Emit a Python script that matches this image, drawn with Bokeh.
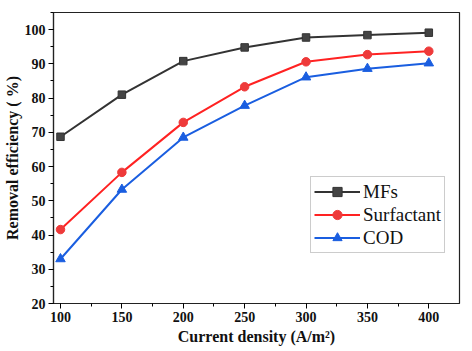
from bokeh.plotting import figure
from bokeh.embed import file_html
from bokeh.resources import INLINE
from bokeh.models import Range1d, FixedTicker, Legend, LegendItem

current_density = [100, 150, 200, 250, 300, 350, 400]
mfs = [68.7, 81.0, 90.8, 94.8, 97.7, 98.4, 99.1]
surfactant = [41.6, 58.3, 72.9, 83.3, 90.6, 92.7, 93.7]
cod = [33.0, 53.3, 68.5, 77.8, 86.1, 88.6, 90.2]
x_ticks = [100, 150, 200, 250, 300, 350, 400]
y_ticks = [20, 30, 40, 50, 60, 70, 80, 90, 100]

p = figure(width=472, height=351, output_backend="svg", toolbar_location=None,
           x_range=Range1d(94.3, 425), y_range=Range1d(20, 105),
           min_border_left=53, min_border_right=13, min_border_top=12, min_border_bottom=48)
p.grid.visible = False
p.outline_line_color = "#222222"
p.outline_line_width = 1.2

FONT = "'Liberation Serif'"
c_mfs, c_sur, c_cod = "#333333", "#ff2222", "#1a5ee0"

r1l = p.line(current_density, mfs, line_color=c_mfs, line_width=2)
r1m = p.scatter(current_density, mfs, marker="square", size=7.5, fill_color="#444444", line_color="#333333")
r2l = p.line(current_density, surfactant, line_color=c_sur, line_width=2)
r2m = p.scatter(current_density, surfactant, marker="circle", size=8.5, fill_color="#ee3a3a", line_color="#ee3a3a")
r3l = p.line(current_density, cod, line_color=c_cod, line_width=2)
r3m = p.scatter(current_density, cod, marker="triangle", size=9.5, fill_color=c_cod, line_color=c_cod)

for ax in (p.xaxis[0], p.yaxis[0]):
    ax.axis_line_color = "#222222"
    ax.axis_line_width = 1.2
    ax.major_tick_in = 0
    ax.major_tick_out = 5
    ax.minor_tick_in = 0
    ax.minor_tick_out = 3
    ax.major_label_text_font = FONT
    ax.major_label_text_font_style = "bold"
    ax.major_label_text_font_size = "14px"
    ax.major_label_text_color = "#111111"
    ax.major_label_standoff = 3
    ax.axis_label_text_font = FONT
    ax.axis_label_text_font_style = "bold"
    ax.axis_label_text_font_size = "16px"
    ax.axis_label_text_color = "#111111"

p.xaxis.ticker = FixedTicker(ticks=x_ticks, minor_ticks=list(range(100, 425, 25)))
p.yaxis.ticker = FixedTicker(ticks=y_ticks, minor_ticks=list(range(20, 106, 5)))
p.xaxis.axis_label = "Current density (A/m²)"
p.yaxis.axis_label = "Removal efficiency ( %)"
p.xaxis.axis_label_standoff = 3
p.yaxis.axis_label_standoff = 1

legend = Legend(items=[
    LegendItem(label="MFs", renderers=[r1l, r1m]),
    LegendItem(label="Surfactant", renderers=[r2l, r2m]),
    LegendItem(label="COD", renderers=[r3l, r3m]),
], location=(257, 50))
legend.label_text_font = FONT
legend.label_text_font_size = "19px"
legend.label_text_color = "#111111"
legend.border_line_color = "#999999"
legend.glyph_width = 46
legend.label_standoff = 3
legend.spacing = 0
legend.padding = 3
legend.margin = 0
legend.label_height = 23
legend.glyph_height = 23
p.add_layout(legend)

open("out.html", "w").write(file_html(p, INLINE))
